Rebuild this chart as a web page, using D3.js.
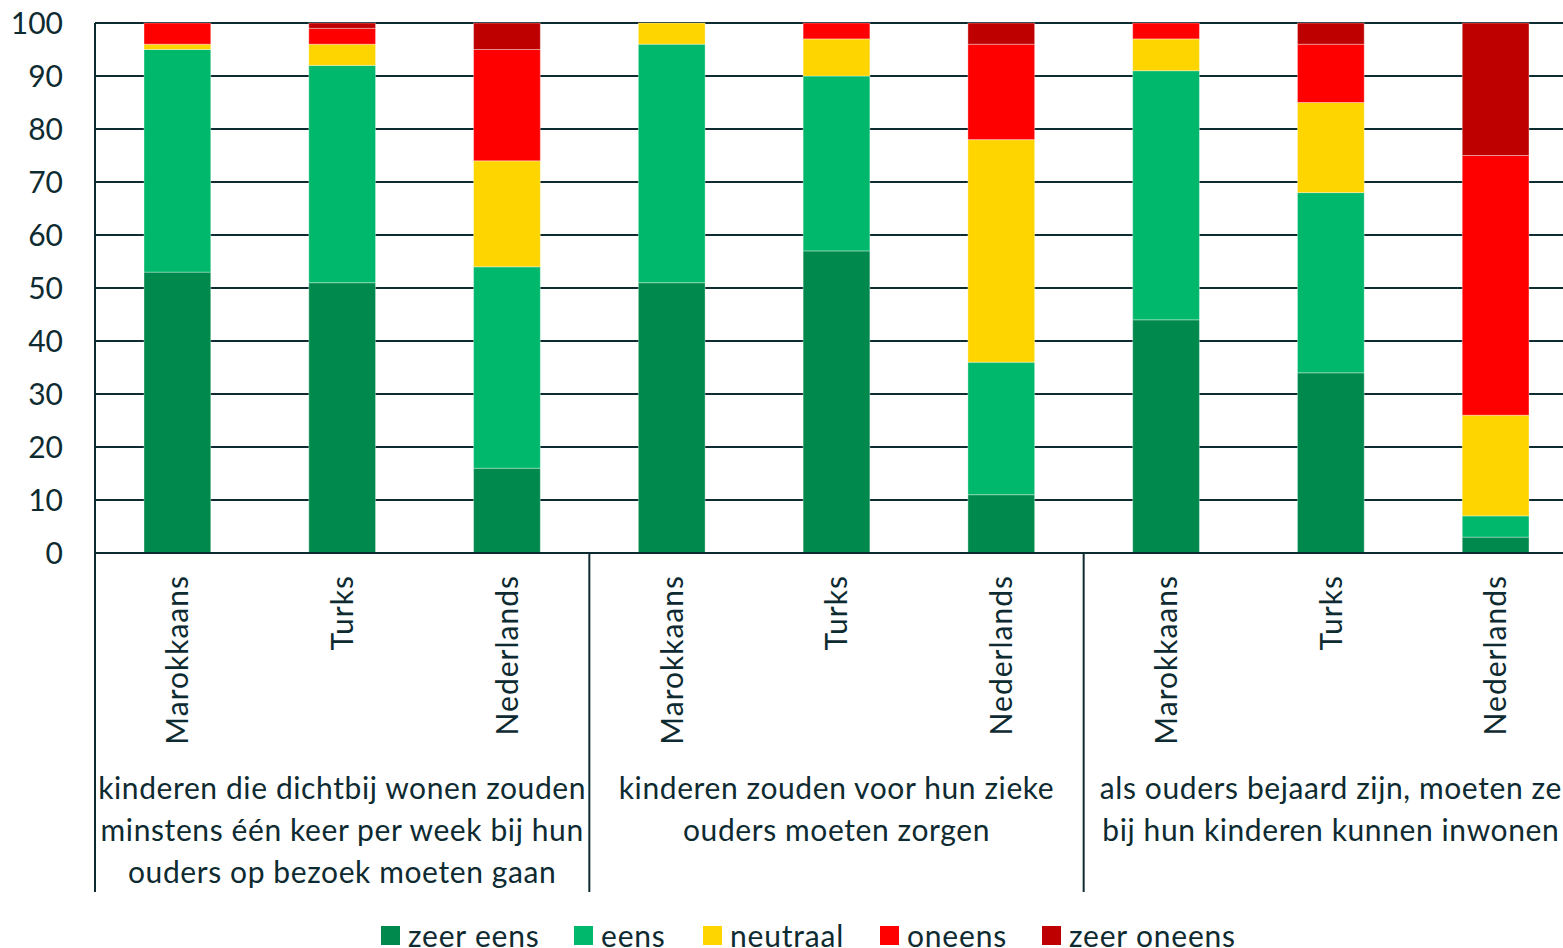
<!DOCTYPE html>
<html><head><meta charset="utf-8">
<script src="https://cdn.jsdelivr.net/npm/d3@7"></script>
<style>body{margin:0;background:#fff;overflow:hidden;}svg{display:block;font-family:Lato,"Open Sans",sans-serif;}</style>
</head><body>
<svg id="c" width="1563" height="948"></svg>
<script>
const groups = [
  ["kinderen die dichtbij wonen zouden","minstens één keer per week bij hun","ouders op bezoek moeten gaan"],
  ["kinderen zouden voor hun zieke","ouders moeten zorgen"],
  ["als ouders bejaard zijn, moeten ze","bij hun kinderen kunnen inwonen"]
];
const origins = ["Marokkaans","Turks","Nederlands"];
const seriesNames = ["zeer eens","eens","neutraal","oneens","zeer oneens"];
const seriesColors = ["#00894c","#00b86b","#ffd500","#ff0000","#bf0000"];
const zeerEens   = [53,51,16, 51,57,11, 44,34, 3];
const eens       = [42,41,38, 45,33,25, 47,34, 4];
const neutraal   = [ 1, 4,20,  4, 7,42,  6,17,19];
const oneens     = [ 4, 3,21,  0, 3,18,  3,11,49];
const zeerOneens = [ 0, 1, 5,  0, 0, 4,  0, 4,25];
const yTicks = [0,10,20,30,40,50,60,70,80,90,100];

(function(){
const seriesVals = [zeerEens, eens, neutraal, oneens, zeerOneens];
const rows = [];
groups.forEach((g,gi)=>origins.forEach((o,oi)=>{
  const i = gi*3+oi; const r = {id:i, group:gi, origin:o};
  seriesNames.forEach((s,si)=> r[s]=seriesVals[si][i]);
  rows.push(r);
}));

const svg = d3.select("#c");
const L=95, R=1578, W=1563, T=23, B=553;
const ink="#0e2b31";
const x = d3.scaleBand().domain(rows.map(d=>d.id)).range([L,R]).paddingInner(0.595).paddingOuter(0.2975);
const y = d3.scaleLinear().domain([0,100]).range([B,T]);

svg.append("g").selectAll("line").data(yTicks).join("line")
  .attr("x1",L).attr("x2",W).attr("y1",d=>y(d)).attr("y2",d=>y(d))
  .attr("stroke",ink).attr("stroke-width",2);

svg.append("g").selectAll("text").data(yTicks).join("text")
  .attr("x",63).attr("y",d=>y(d)).attr("dy","0.36em").attr("text-anchor","end")
  .attr("font-size",30).attr("fill",ink).text(d=>d);

const stack = d3.stack().keys(seriesNames)(rows);
svg.append("g").selectAll("g").data(stack).join("g")
  .attr("fill",(d,i)=>seriesColors[i])
  .selectAll("rect").data(d=>d).join("rect")
  .attr("x",d=>x(d.data.id)).attr("width",x.bandwidth())
  .attr("y",d=>y(d[1])).attr("height",d=>y(d[0])-y(d[1]))
  .attr("stroke",d=>d[1]-d[0]>0?"rgba(255,255,255,0.35)":"none").attr("stroke-width",1);

svg.append("line").attr("x1",L).attr("x2",W).attr("y1",B).attr("y2",B).attr("stroke",ink).attr("stroke-width",2);
svg.append("line").attr("x1",L).attr("x2",L).attr("y1",T).attr("y2",892).attr("stroke",ink).attr("stroke-width",2);
const step = x.step();
[1,2].forEach(k=>{
  const xx = L + step*3*k;
  svg.append("line").attr("x1",xx).attr("x2",xx).attr("y1",B).attr("y2",892).attr("stroke",ink).attr("stroke-width",2);
});

svg.append("g").selectAll("text").data(rows).join("text")
  .attr("transform",d=>`translate(${x(d.id)+x.bandwidth()/2},575) rotate(-90)`)
  .attr("dy","0.36em").attr("text-anchor","end").attr("letter-spacing",1)
  .attr("font-size",30).attr("fill",ink).text(d=>d.origin);

groups.forEach((lines,gi)=>{
  const cx = L + step*(gi*3+1.5);
  const t = svg.append("text").attr("text-anchor","middle").attr("font-size",30)
    .attr("letter-spacing",0.6).attr("fill",ink);
  lines.forEach((l,li)=> t.append("tspan").attr("x",cx).attr("y",799+li*42).text(l));
});

const legX = [381,574,703,880,1042];
const lg = svg.append("g").selectAll("g").data(seriesNames).join("g")
  .attr("transform",(d,i)=>`translate(${legX[i]},926)`);
lg.append("rect").attr("width",19).attr("height",19).attr("fill",(d,i)=>seriesColors[i]);
lg.append("text").attr("x",27).attr("y",10).attr("dy","0.36em").attr("font-size",30)
  .attr("letter-spacing",0.8).attr("fill",ink).text(d=>d);
})();
</script>
</body></html>
